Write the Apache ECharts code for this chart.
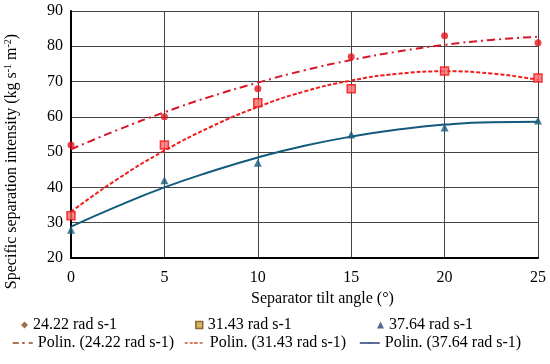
<!DOCTYPE html>
<html><head><meta charset="utf-8">
<script src="https://cdn.jsdelivr.net/npm/echarts@6/dist/echarts.min.js"></script>
<style>html,body{margin:0;padding:0;background:#fff}#c{width:550px;height:364px}</style>
</head><body><div id="c"></div>
<script>
var angles = [0, 5, 10, 15, 20, 25];
var s2422 = [52, 60, 68, 77, 83, 81];
var s3143 = [32, 52, 64, 68, 73, 71];
var s3764 = [28, 42, 47, 55, 57, 59];
var trendX = [0, 2.5, 5, 7.5, 10, 12.5, 15, 17.5, 20, 22.5, 25];
var t2422 = [50.8, 56.3, 61.3, 65.8, 69.7, 73.2, 76.1, 78.5, 80.4, 81.8, 82.7];
var t3143 = [33.1, 42.4, 50.4, 57.2, 62.8, 67.2, 70.3, 72.2, 72.9, 72.3, 70.5];
var t3764 = [28.9, 34.7, 40.0, 44.5, 48.5, 51.8, 54.4, 56.4, 57.8, 58.5, 58.6];
var names = ['24.22 rad s-1', '31.43 rad s-1', '37.64 rad s-1',
  'Polin. (24.22 rad s-1)', 'Polin. (31.43 rad s-1)', 'Polin. (37.64 rad s-1)'];
var yTicks = [20, 30, 40, 50, 60, 70, 80, 90];
var xTicks = [0, 5, 10, 15, 20, 25];

function pairs(xs, ys) { return xs.map(function (x, i) { return [x, ys[i]]; }); }
var font = 'Liberation Serif, Times New Roman, serif';
var chart = echarts.init(document.getElementById('c'));
function leg(name, left, top, opts) {
  var d = { name: name };
  if (opts.icon) d.icon = opts.icon;
  if (opts.itemStyle) d.itemStyle = opts.itemStyle;
  if (opts.lineStyle) d.lineStyle = opts.lineStyle;
  return {
    data: [d], left: left, top: top, itemWidth: opts.w, itemHeight: opts.h,
    textStyle: { fontFamily: font, fontSize: 16, color: '#000' }, padding: 0, selectedMode: false
  };
}
chart.setOption({
  animation: false,
  grid: { left: 71, right: 12, top: 11, bottom: 106, containLabel: false, outerBoundsMode: 'none' },
  xAxis: {
    type: 'value', min: xTicks[0], max: xTicks[xTicks.length - 1], interval: 5,
    name: 'Separator tilt angle (°)', nameLocation: 'middle', nameGap: 32,
    nameTextStyle: { fontFamily: font, fontSize: 16, color: '#000', padding: [0, 0, 0, 36] },
    axisLine: { show: true, onZero: false, lineStyle: { color: '#000', width: 2 } },
    axisTick: { show: false },
    axisLabel: { fontFamily: font, fontSize: 16, color: '#000', margin: 12 },
    splitLine: { show: true, lineStyle: { color: '#444', width: 1 } }
  },
  yAxis: {
    type: 'value', min: yTicks[0], max: yTicks[yTicks.length - 1], interval: 10,
    name: 'Specific separation intensity (kg s{sup|-1} m{sup|-2})', nameLocation: 'middle', nameGap: 51,
    nameTextStyle: { fontFamily: font, fontSize: 16, color: '#000', padding: [0, 54, 0, 0],
      rich: { sup: { fontFamily: font, fontSize: 10, color: '#000', verticalAlign: 'top', padding: [0, 0, 7, 0] } } },
    axisLine: { show: true, lineStyle: { color: '#000', width: 2 } },
    axisTick: { show: false },
    axisLabel: { fontFamily: font, fontSize: 16, color: '#000', margin: 8 },
    splitLine: { show: true, lineStyle: { color: '#444', width: 1 } }
  },
  legend: [
    leg(names[0], 21, 317, { w: 7, h: 7, icon: 'diamond', itemStyle: { color: '#8B4A1C' } }),
    leg(names[1], 195, 317, { w: 7, h: 7, icon: 'rect', itemStyle: { color: '#C8A040', borderColor: '#7A4A14', borderWidth: 1.5 } }),
    leg(names[2], 377, 317, { w: 7, h: 7, icon: 'triangle', itemStyle: { color: '#2C3E7A' } }),
    leg(names[3], 12, 335, { w: 20, h: 2, lineStyle: { color: '#8B4A1C', type: [6, 4, 2, 4], width: 1.5 } }),
    leg(names[4], 184, 335, { w: 20, h: 2, lineStyle: { color: '#C0603A', type: [3, 2], width: 1.5 } }),
    leg(names[5], 359, 335, { w: 20, h: 2, lineStyle: { color: '#2C3E7A', width: 1.5 } })
  ],
  series: [
    { name: names[0], type: 'scatter', data: pairs(angles, s2422), symbol: 'circle', symbolSize: 7,
      itemStyle: { color: '#E3151E' }, z: 5 },
    { name: names[1], type: 'scatter', data: pairs(angles, s3143), symbol: 'rect', symbolSize: 8,
      itemStyle: { color: '#FF6B6B', borderColor: '#F01010', borderWidth: 1.5 }, z: 5 },
    { name: names[2], type: 'scatter', data: pairs(angles, s3764), symbol: 'triangle', symbolSize: 8,
      itemStyle: { color: '#175C80' }, z: 5 },
    { name: names[3], type: 'line', data: pairs(trendX, t2422), smooth: true, showSymbol: false, symbol: 'none',
      lineStyle: { color: '#D8182A', width: 2, type: [8, 4, 2, 4] }, itemStyle: { color: '#D8182A' }, z: 3 },
    { name: names[4], type: 'line', data: pairs(trendX, t3143), smooth: true, showSymbol: false, symbol: 'none',
      lineStyle: { color: '#F21C1C', width: 2, type: [4, 2] }, itemStyle: { color: '#F21C1C' }, z: 3 },
    { name: names[5], type: 'line', data: pairs(trendX, t3764), smooth: true, showSymbol: false, symbol: 'none',
      lineStyle: { color: '#135A7C', width: 2 }, itemStyle: { color: '#135A7C' }, z: 3 }
  ]
});
</script></body></html>
